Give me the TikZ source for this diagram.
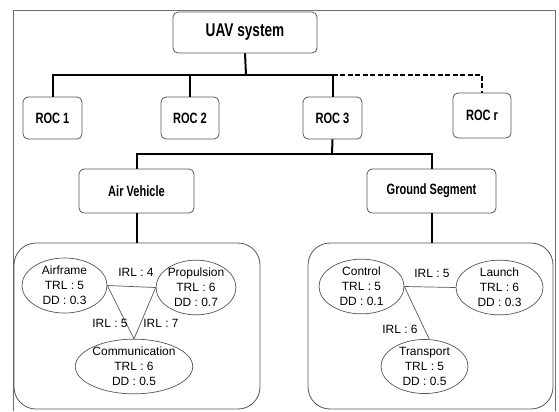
\documentclass[tikz,border=0pt]{standalone}
\usepackage{fontspec}
\setmainfont{Liberation Sans}
\newfontfamily\boxfont[FakeStretch=0.74,BoldFeatures={FakeStretch=0.74}]{Liberation Sans}
\usetikzlibrary{shapes.geometric}
\definecolor{edgegray}{HTML}{555555}
\definecolor{framegray}{HTML}{6E6E6E}
\begin{document}
\begin{tikzpicture}[x=1bp,y=-1bp,
  box/.style={draw=edgegray, line width=0.8bp, rounded corners=5bp, inner sep=0pt,
    font=\boxfont\bfseries\fontsize{15}{17}\selectfont},
  bigbox/.style={box, font=\boxfont\bfseries\fontsize{18.5}{20}\selectfont},
  group/.style={draw=edgegray, line width=0.8bp, rounded corners=22bp, inner sep=0pt},
  comp/.style={ellipse, draw=edgegray, line width=0.7bp, inner sep=0pt, align=center,
    font=\fontsize{12}{15}\selectfont},
  link/.style={draw=edgegray, line width=0.7bp},
  lbl/.style={inner sep=1bp, font=\fontsize{12}{14}\selectfont},
  tree/.style={line width=2bp, black},
  treedash/.style={tree, dash pattern=on 5bp off 2.5bp},
  frame/.style={draw=framegray, line width=0.9bp}
]
\useasboundingbox (0,0) rectangle (559,411);
\draw[frame] (13,411) -- (13,10) -- (555,10) -- (555,411);

% top level
\node[bigbox, minimum width=144bp, minimum height=41bp] (uav) at (245,32.5) {UAV system};
\node[box, minimum width=59bp, minimum height=42bp] (roc1) at (52.5,118) {ROC 1};
\node[box, minimum width=58bp, minimum height=42bp] (roc2) at (190,118) {ROC 2};
\node[box, minimum width=59bp, minimum height=42bp] (roc3) at (332.5,118) {ROC 3};
\node[box, minimum width=58bp, minimum height=45bp] (rocr) at (482,115.5) {ROC r};
\node[box, minimum width=115bp, minimum height=44bp] (av) at (136.5,191) {Air Vehicle};
\node[box, minimum width=129bp, minimum height=44bp] (gs) at (431.5,191) {Ground Segment};

% group boxes
\node[group, minimum width=246bp, minimum height=166bp] (lg) at (137,326) {};
\node[group, minimum width=245bp, minimum height=166bp] (rg) at (430.5,326) {};

% tree connectors
\coordinate (b1) at (246,75);
\coordinate (b2) at (332,154);
\draw[tree] (uav.south) -- (b1);
\draw[tree] (b1) -| (roc1.north);
\draw[tree] (b1) -| (roc2.north);
\draw[tree] (b1) -| (roc3.north);
\draw[treedash] (roc3.north |- b1) -| (rocr.north);
\draw[tree] (roc3.south) -- (b2);
\draw[tree] (b2) -| (av.north);
\draw[tree] (b2) -| (gs.north);
\draw[tree] (av.south) -- (av.south |- lg.north);
\draw[tree] (gs.south) -- (gs.south |- rg.north);

% air vehicle components
\node[comp, minimum width=85bp, minimum height=55bp] (airframe) at (64.5,285.5) {Airframe\\TRL : 5\\DD : 0.3};
\node[comp, minimum width=72bp, minimum height=53bp] (prop) at (196,287.5) {Propulsion\\TRL : 6\\DD : 0.7};
\node[comp, minimum width=94bp, minimum height=51bp] (comm) at (134,366.5) {Communication\\TRL : 6\\DD : 0.5};
\draw[link] (airframe.east) -- (prop.west);
\draw[link] (airframe.east) -- (comm.north);
\draw[link] (prop.west) -- (comm.north);
\node[lbl] (irl4) at (136,272) {IRL : 4};
\node[lbl] (irl5a) at (110,323) {IRL : 5};
\node[lbl] (irl7) at (161,323) {IRL : 7};

% ground segment components
\node[comp, minimum width=85bp, minimum height=53bp] (control) at (361.5,286.5) {Control\\TRL : 5\\DD : 0.1};
\node[comp, minimum width=87bp, minimum height=51bp] (launch) at (499.5,287.5) {Launch\\TRL : 6\\DD : 0.3};
\node[comp, minimum width=87bp, minimum height=53bp] (transport) at (424.5,366.5) {Transport\\TRL : 5\\DD : 0.5};
\draw[link] (control.east) -- (launch.west);
\draw[link] (control.east) -- (transport.80);
\node[lbl] (irl5b) at (432,273) {IRL : 5};
\node[lbl] (irl6) at (400,329) {IRL : 6};
\end{tikzpicture}
\end{document}
